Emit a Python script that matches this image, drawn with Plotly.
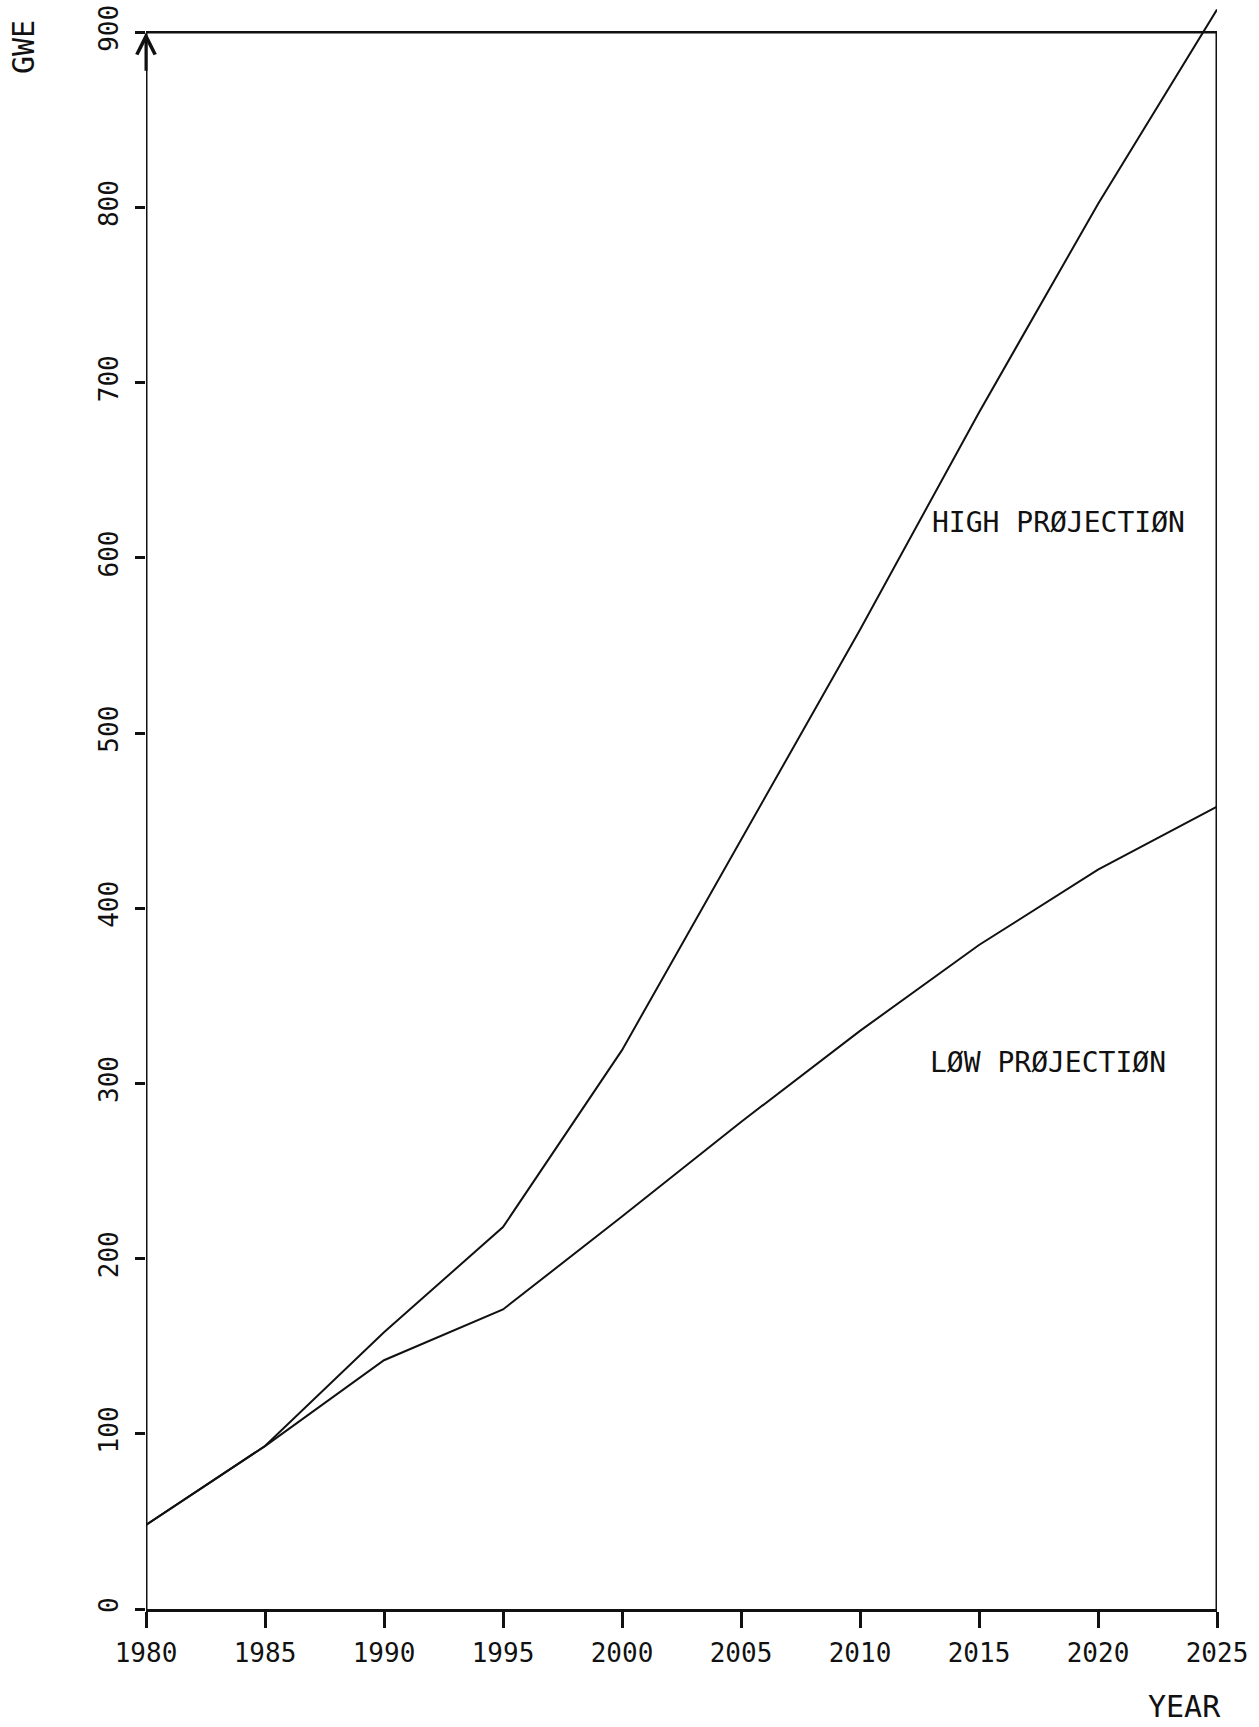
import plotly.graph_objects as go

years = [1980, 1985, 1990, 1995, 2000, 2005, 2010, 2015, 2020, 2025]
high_projection = [48, 93, 158, 218, 319, 439, 559, 683, 802, 913]
low_projection = [48, 93, 142, 171, 224, 278, 330, 379, 422, 458]

x_ticks = [1980, 1985, 1990, 1995, 2000, 2005, 2010, 2015, 2020, 2025]
y_ticks = [0, 100, 200, 300, 400, 500, 600, 700, 800, 900]

X_MIN, X_MAX = 1980, 2025
Y_MAX_AXIS = 900

FONT = "DejaVu Sans Mono"
INK = "#111111"

fig = go.Figure()
fig.add_trace(go.Scatter(x=years, y=high_projection, mode="lines",
                         line=dict(color=INK, width=2), cliponaxis=False,
                         name="HIGH PROJECTION", showlegend=False))
fig.add_trace(go.Scatter(x=years, y=low_projection, mode="lines",
                         line=dict(color=INK, width=2), cliponaxis=False,
                         name="LOW PROJECTION", showlegend=False))

# frame lines (left axis with arrow, right and top borders)
fig.add_shape(type="line", xref="x", yref="y", x0=X_MIN, x1=X_MIN, y0=0, y1=Y_MAX_AXIS,
              line=dict(color=INK, width=3))
fig.add_shape(type="line", xref="x", yref="y", x0=X_MAX, x1=X_MAX, y0=0, y1=Y_MAX_AXIS,
              line=dict(color=INK, width=3))
fig.add_shape(type="line", xref="x", yref="y", x0=X_MIN, x1=X_MAX, y0=Y_MAX_AXIS, y1=Y_MAX_AXIS,
              line=dict(color=INK, width=2.5))

fig.add_annotation(x=X_MIN, y=Y_MAX_AXIS, xref="x", yref="y", text="",
                   showarrow=True, arrowhead=5, arrowsize=1.2, arrowwidth=3,
                   arrowcolor=INK, ax=0, ay=40)

fig.add_annotation(x=2012.95, y=620, xref="x", yref="y", text="HIGH PRØJECTIØN",
                   showarrow=False, xanchor="left", yanchor="middle",
                   font=dict(family=FONT, size=28, color=INK))
fig.add_annotation(x=2012.87, y=312, xref="x", yref="y", text="LØW PRØJECTIØN",
                   showarrow=False, xanchor="left", yanchor="middle",
                   font=dict(family=FONT, size=28, color=INK))

fig.add_annotation(x=-0.1148, y=0.9744, xref="paper", yref="paper", text="GWE",
                   showarrow=False, textangle=-90, xanchor="center", yanchor="middle",
                   font=dict(family=FONT, size=30, color=INK))
fig.add_annotation(x=0.970, y=-0.0611, xref="paper", yref="paper", text="YEAR",
                   showarrow=False, xanchor="center", yanchor="middle",
                   font=dict(family=FONT, size=30, color=INK))

fig.update_xaxes(range=[X_MIN, X_MAX], tickvals=x_ticks, ticktext=[str(v) for v in x_ticks],
                 ticks="outside", ticklen=16, tickwidth=2.5, tickcolor=INK,
                 showline=True, linecolor=INK, linewidth=3,
                 showgrid=False, zeroline=False, ticklabelstandoff=3,
                 tickfont=dict(family=FONT, size=26, color=INK))
fig.update_yaxes(range=[0, 915], tickvals=y_ticks, ticktext=[str(v) for v in y_ticks],
                 ticks="outside", ticklen=10, tickwidth=2.5, tickcolor=INK,
                 showline=False, showgrid=False, zeroline=False,
                 tickangle=-90, ticklabelstandoff=7,
                 tickfont=dict(family=FONT, size=26, color=INK))

fig.update_layout(width=1259, height=1727, margin=dict(l=146, r=42, t=6, b=118),
                  paper_bgcolor="white", plot_bgcolor="white", showlegend=False)

fig.write_html("out.html")
